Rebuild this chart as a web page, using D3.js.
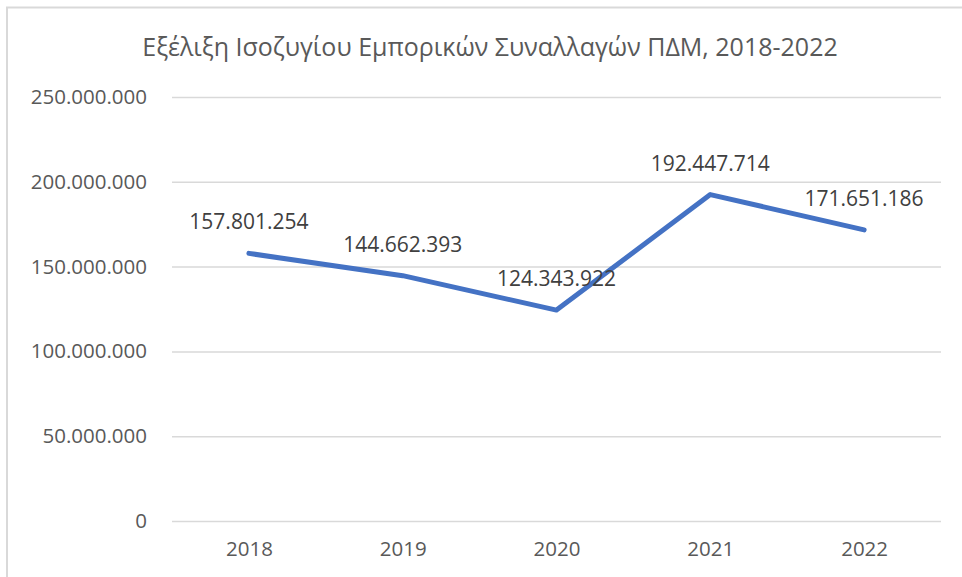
<!DOCTYPE html>
<html>
<head>
<meta charset="utf-8">
<script src="https://cdn.jsdelivr.net/npm/d3@7"></script>
<style>
  body { margin: 0; background: #fff; }
  svg { display: block; font-family: "Open Sans", sans-serif; }
</style>
</head>
<body>
<div id="chart"></div>
<script>
var years = ["2018", "2019", "2020", "2021", "2022"];
var balance = [157801254, 144662393, 124343922, 192447714, 171651186];
var yTicks = [0, 50000000, 100000000, 150000000, 200000000, 250000000];
var title = "Εξέλιξη Ισοζυγίου Εμπορικών Συναλλαγών ΠΔΜ, 2018-2022";

var width = 962, height = 577;
var margin = {top: 97, right: 21, bottom: 56, left: 172};

// dots as thousands separator
var fmt = function(v) {
    return d3.format(",")(v).replace(/,/g, ".");
};

var svg = d3.select("#chart")
    .append("svg")
    .attr("width", width)
    .attr("height", height);

// chart frame
svg.append("rect")
    .attr("x", 7)
    .attr("y", 7.5)
    .attr("width", 970)
    .attr("height", 600)
    .attr("fill", "none")
    .attr("stroke", "#d9d9d9")
    .attr("stroke-width", 2);

var x = d3.scalePoint()
    .domain(years)
    .range([margin.left, width - margin.right])
    .padding(0.5);

var y = d3.scaleLinear()
    .domain([0, 250000000])
    .range([height - margin.bottom, margin.top]);

svg.append("text")
    .attr("x", 490)
    .attr("y", 56)
    .attr("text-anchor", "middle")
    .attr("font-size", 25)
    .attr("fill", "#595959")
    .text(title);

// gridlines + y labels
var yAxis = svg.append("g")
    .attr("transform", "translate(" + margin.left + ",0)")
    .call(d3.axisLeft(y)
        .tickValues(yTicks)
        .tickSize(-(width - margin.left - margin.right))
        .tickPadding(25)
        .tickFormat(fmt));
yAxis.select(".domain").remove();
yAxis.selectAll(".tick line")
    .attr("stroke", "#d9d9d9")
    .attr("stroke-width", 1.5);
yAxis.selectAll(".tick text")
    .attr("fill", "#595959")
    .attr("font-size", 20.5)
    .attr("font-family", "Open Sans, sans-serif");

var xAxis = svg.append("g")
    .attr("transform", "translate(0," + (height - margin.bottom) + ")")
    .call(d3.axisBottom(x).tickSize(0).tickPadding(20));
xAxis.select(".domain").remove();
xAxis.selectAll(".tick text")
    .attr("fill", "#595959")
    .attr("font-size", 20.5)
    .attr("font-family", "Open Sans, sans-serif");

var line = d3.line()
    .x(function(d, i) { return x(years[i]); })
    .y(function(d) { return y(d); });

svg.append("path")
    .datum(balance)
    .attr("d", line)
    .attr("fill", "none")
    .attr("stroke", "#4472c4")
    .attr("stroke-width", 5)
    .attr("stroke-linecap", "round")
    .attr("stroke-linejoin", "round");

svg.selectAll(".lbl")
    .data(balance)
    .enter()
    .append("text")
    .attr("class", "lbl")
    .attr("x", function(d, i) { return x(years[i]); })
    .attr("y", function(d) { return y(d) - 24; })
    .attr("text-anchor", "middle")
    .attr("font-size", 21)
    .attr("fill", "#404040")
    .text(function(d) { return fmt(d); });
</script>
</body>
</html>
